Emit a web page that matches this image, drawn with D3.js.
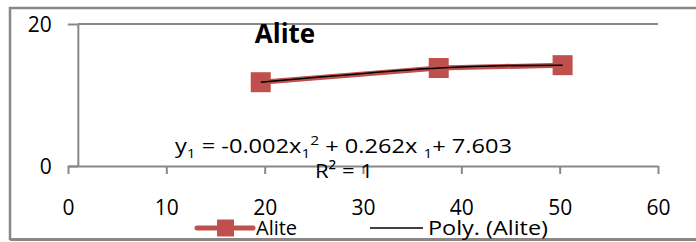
<!DOCTYPE html>
<html><head><meta charset="utf-8">
<script src="https://cdn.jsdelivr.net/npm/d3@7"></script>
<style>html,body{margin:0;padding:0;background:#fff;}svg{display:block;font-family:"Open Sans",sans-serif;}</style>
</head><body>
<svg id="c" width="696" height="242"></svg>
<script>
const xValues = [19.6, 37.7, 50.3];
const yValues = [11.8, 13.8, 14.2];
const xTicks = [0, 10, 20, 30, 40, 50, 60];
const yTicks = [0, 20];
const seriesName = "Alite";
const trendName = "Poly. (Alite)";

const data = xValues.map((x, i) => ({x, y: yValues[i]}));
const svg = d3.select("#c");
const gray = "#888888", red = "#C0504D";

// outer border
svg.append("path").attr("d", "M10,240 L10,8 L696,8").attr("fill","none").attr("stroke", gray).attr("stroke-width", 2.5);
svg.append("line").attr("x1",10).attr("x2",696).attr("y1",239.5).attr("y2",239.5).attr("stroke",gray).attr("stroke-width",3);

const x = d3.scaleLinear().domain([0, 60]).range([68, 658]);
const y = d3.scaleLinear().domain([0, 20]).range([166, 24]);

// gridline at 20
svg.append("line").attr("x1", x(1)).attr("x2", x(60)).attr("y1", y(20)).attr("y2", y(20)).attr("stroke", gray).attr("stroke-width", 2);

// x axis
const gx = svg.append("g").attr("transform", `translate(0,${y(0)})`)
  .call(d3.axisBottom(x).tickValues(xTicks).tickSize(8).tickSizeOuter(0));
gx.select(".domain").attr("stroke", gray).attr("stroke-width", 2);
gx.selectAll(".tick line").attr("stroke", gray).attr("stroke-width", 2);
gx.selectAll(".tick text").attr("y", 42).attr("dy", "0.35em").attr("font-size", 21).attr("fill", "#000").attr("font-family", "Open Sans");

// y axis at x=1
const gy = svg.append("g").attr("transform", `translate(${x(1)},0)`)
  .call(d3.axisLeft(y).tickValues(yTicks).tickSize(10).tickSizeOuter(0).tickPadding(16));
gy.select(".domain").attr("stroke", gray).attr("stroke-width", 2);
gy.selectAll(".tick line").attr("stroke", gray).attr("stroke-width", 2);
gy.selectAll(".tick text").attr("font-size", 21).attr("fill", "#000").attr("font-family", "Open Sans").attr("dy","0.35em");

// series line
svg.append("path").datum(data).attr("fill","none").attr("stroke", red).attr("stroke-width", 5)
  .attr("d", d3.line().x(d => x(d.x)).y(d => y(d.y)));
// markers
svg.selectAll("rect.m").data(data).join("rect").attr("class","m")
  .attr("x", d => x(d.x) - 10).attr("y", d => y(d.y) - 10).attr("width", 20).attr("height", 20).attr("fill", red);
// trendline (poly through points)
svg.append("path").datum(data).attr("fill","none").attr("stroke", "#000").attr("stroke-width", 1.6)
  .attr("d", d3.line().curve(d3.curveNatural).x(d => x(d.x)).y(d => y(d.y)));

// title
svg.append("text").attr("x", 285).attr("y", 43).attr("text-anchor","middle").attr("font-size", 26).attr("font-weight","bold").text(seriesName);

// equation
const eq = svg.append("text").attr("x", 175).attr("y", 153).attr("font-size", 20).attr("textLength", 337).attr("lengthAdjust","spacingAndGlyphs");
eq.append("tspan").text("y");
eq.append("tspan").attr("font-size", 13).attr("dy", 5).text("1");
eq.append("tspan").attr("dy", -5).text(" = -0.002x");
eq.append("tspan").attr("font-size", 13).attr("dy", 5).text("1");
eq.append("tspan").attr("font-size", 13).attr("dy", -13).text("2");
eq.append("tspan").attr("dy", 8).text(" + 0.262x ");
eq.append("tspan").attr("font-size", 13).attr("dy", 5).text("1");
eq.append("tspan").attr("dy", -5).text("+ 7.603");

const r2 = svg.append("text").attr("x", 315).attr("y", 178).attr("font-size", 20).attr("textLength", 58).attr("lengthAdjust","spacingAndGlyphs");
r2.append("tspan").text("R² = 1");

// legend
const ly = 228;
svg.append("line").attr("x1", 197).attr("x2", 253).attr("y1", ly).attr("y2", ly).attr("stroke", red).attr("stroke-width", 5).attr("stroke-linecap","round");
svg.append("rect").attr("x", 217).attr("y", ly - 8.5).attr("width", 17).attr("height", 17).attr("fill", red);
svg.append("text").attr("x", 256).attr("y", 235).attr("font-size", 20).text(seriesName);
svg.append("line").attr("x1", 370).attr("x2", 423).attr("y1", ly).attr("y2", ly).attr("stroke", "#000").attr("stroke-width", 1.6);
svg.append("text").attr("x", 428).attr("y", 235).attr("font-size", 20).attr("textLength", 120).attr("lengthAdjust","spacingAndGlyphs").text(trendName);
</script>
</body></html>
